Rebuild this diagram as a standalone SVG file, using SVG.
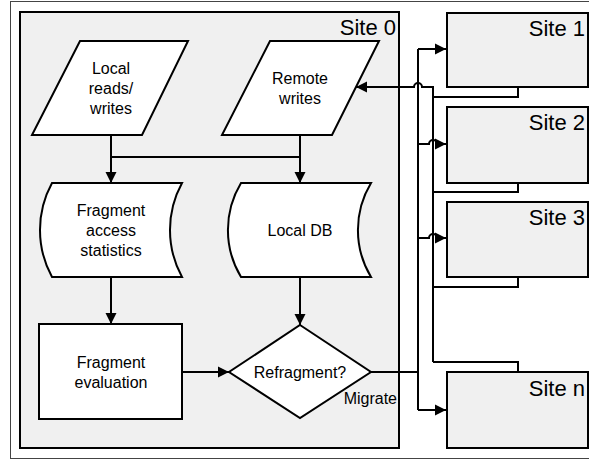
<svg xmlns="http://www.w3.org/2000/svg" width="589" height="460" viewBox="0 0 589 460">
<defs>
<style>
.frame{fill:#fff;stroke:#444;stroke-width:1}
.site{fill:#f0f0f0;stroke:#000;stroke-width:2}
.node{fill:#fff;stroke:#000;stroke-width:2;stroke-linejoin:miter}
.conn{fill:none;stroke:#000;stroke-width:2}
.t{font-family:"Liberation Sans",Arial,sans-serif;font-size:16px;fill:#000;text-anchor:middle}
.st{font-family:"Liberation Sans",Arial,sans-serif;font-size:22px;fill:#000;text-anchor:end}
.lbl{font-family:"Liberation Sans",Arial,sans-serif;font-size:16px;fill:#000;text-anchor:end}
</style>
<marker id="ah" markerWidth="12" markerHeight="12" refX="11" refY="6" orient="auto" markerUnits="userSpaceOnUse">
<path d="M0,0.5 L11,6 L0,11.5 Z" fill="#000"/>
</marker>
</defs>
<rect class="frame" x="10.5" y="1.5" width="600" height="457"/>
<g id="site0">
<rect class="site" x="20" y="12" width="379" height="436"/>
<text class="st" x="396" y="35">Site 0</text>
</g>
<g id="site1">
<rect class="site" x="447" y="13" width="141" height="74"/>
<text class="st" x="585" y="36">Site 1</text>
</g>
<g id="site2">
<rect class="site" x="447" y="107" width="141" height="76"/>
<text class="st" x="585" y="130">Site 2</text>
</g>
<g id="site3">
<rect class="site" x="447" y="202" width="141" height="75"/>
<text class="st" x="585" y="225">Site 3</text>
</g>
<g id="siten">
<rect class="site" x="447" y="372" width="141" height="76"/>
<text class="st" x="585" y="396">Site n</text>
</g>
<g id="local-rw">
<path class="node" d="M80,41 L188,41 L142,135 L32,135 Z"/>
<text class="t" x="111" y="74">Local</text>
<text class="t" x="111" y="94">reads/</text>
<text class="t" x="111" y="114">writes</text>
</g>
<g id="remote-w">
<path class="node" d="M270,41 L379,41 L332,135 L222,135 Z"/>
<text class="t" x="300" y="84">Remote</text>
<text class="t" x="300" y="104">writes</text>
</g>
<g id="frag-stats">
<path class="node" d="M52,183 L182,183 A98,98 0 0 0 182,277 L52,277 A98,98 0 0 1 52,183 Z"/>
<text class="t" x="111" y="216">Fragment</text>
<text class="t" x="111" y="236">access</text>
<text class="t" x="111" y="256">statistics</text>
</g>
<g id="local-db">
<path class="node" d="M241,183 L371,183 A91,91 0 0 0 371,277 L241,277 A91,91 0 0 1 241,183 Z"/>
<text class="t" x="300" y="236">Local DB</text>
</g>
<g id="frag-eval">
<rect class="node" x="39" y="324" width="143" height="95"/>
<text class="t" x="111" y="368">Fragment</text>
<text class="t" x="111" y="388">evaluation</text>
</g>
<g id="refragment">
<path class="node" d="M300,325 L371,372 L300,418 L229,372 Z"/>
<text class="t" x="300" y="378">Refragment?</text>
</g>
<g id="connectors">
<path class="conn" d="M111,135 V183" marker-end="url(#ah)"/>
<path class="conn" d="M111,157 H300"/>
<path class="conn" d="M300,135 V183" marker-end="url(#ah)"/>
<path class="conn" d="M111,277 V324" marker-end="url(#ah)"/>
<path class="conn" d="M300,277 V325" marker-end="url(#ah)"/>
<path class="conn" d="M182,372 H229" marker-end="url(#ah)"/>
<path class="conn" d="M371,372 H418"/>
<path class="conn" d="M418,49 V410"/>
<path class="conn" d="M418,49 H446" marker-end="url(#ah)"/>
<path class="conn" d="M418,144 H429 A4,4 0 0 1 437,144 H446" marker-end="url(#ah)"/>
<path class="conn" d="M418,238 H429 A4,4 0 0 1 437,238 H446" marker-end="url(#ah)"/>
<path class="conn" d="M418,410 H446" marker-end="url(#ah)"/>
<path class="conn" d="M518,87 V97 H433"/>
<path class="conn" d="M518,183 V192 H433"/>
<path class="conn" d="M518,277 V287 H433"/>
<path class="conn" d="M518,372 V362 H433"/>
<path class="conn" d="M433,362 V87 H422 A4,4 0 0 0 414,87 H356" marker-end="url(#ah)"/>
<text class="lbl" x="397" y="404">Migrate</text>
</g>
</svg>
